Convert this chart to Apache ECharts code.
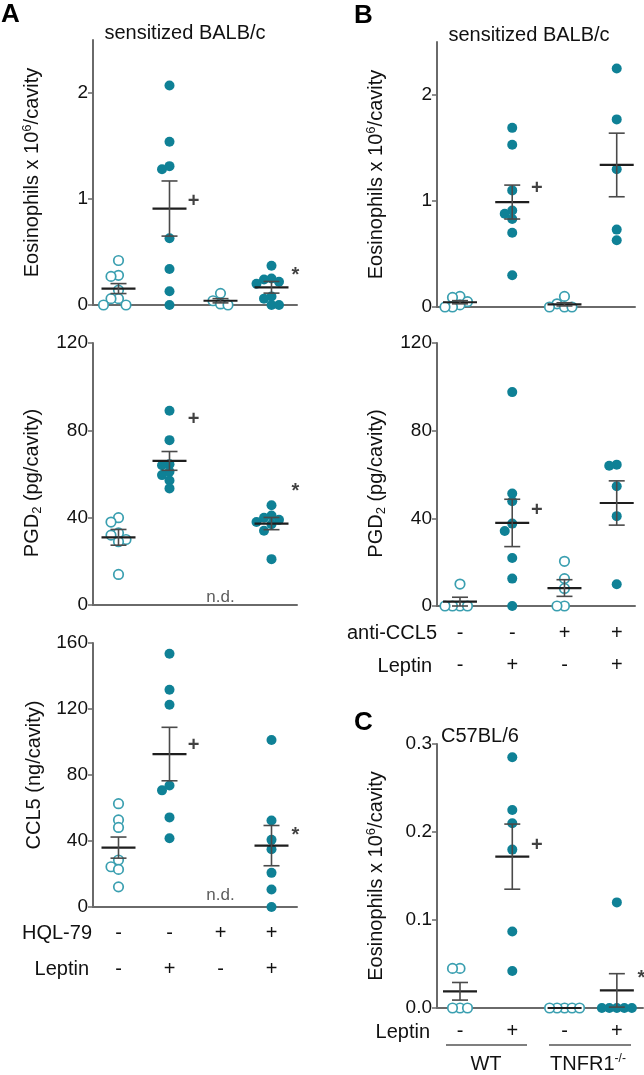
<!DOCTYPE html>
<html><head><meta charset="utf-8">
<script src="https://cdn.jsdelivr.net/npm/echarts@6/dist/echarts.min.js"></script>
<style>html,body{margin:0;padding:0;background:#fff}#c{width:644px;height:1075px}</style>
</head><body><div id="c"></div>
<script>
// ================= DATA =================
// treatment rows
const hql79    = ['-', '-', '+', '+'];
const leptinA  = ['-', '+', '-', '+'];
const antiCCL5 = ['-', '-', '+', '+'];
const leptinB  = ['-', '+', '-', '+'];
const leptinC  = ['-', '+', '-', '+'];
const genotypesC = ['WT', 'TNFR1'];

// Panel A – eosinophils (x10^6/cavity)
const eosA = [
  [0.42, 0.28, 0.27, 0.14, 0.06, 0.06, 0, 0],
  [2.07, 1.54, 1.31, 1.28, 0.63, 0.34, 0.13, 0],
  [0.11, 0.04, 0.01, 0],
  [0.37, 0.25, 0.24, 0.22, 0.2, 0.08, 0.06, 0, 0]
];
const eosAMean = [0.155, 0.91, 0.04, 0.167];
const eosASem  = [0.047, 0.26, 0.02, 0.055];
const eosASig  = [[2, 0.975, '+'], [4, 0.28, '*']];

// Panel A – PGD2 (pg/cavity)
const pgdA = [
  [40, 38, 33, 32, 30, 29, 14],
  [89, 75.5, 64.5, 64, 61, 59.5, 57, 53.4],
  [],
  [45.7, 41, 40, 39, 38, 37, 34, 21]
];
const pgdAMean = [31, 66, null, 37.3];
const pgdASem  = [3.6, 4.3, null, 2.8];
const pgdASig  = [[2, 85, '+'], [4, 52, '*']];
const pgdAND   = [[3, 3.7, 'n.d.']];

// Panel A – CCL5 (ng/cavity)
const cclA = [
  [62.6, 52.8, 48.2, 28.5, 24.4, 22.8, 12.2],
  [153.5, 131.7, 122.6, 73.6, 70.7, 54.3, 41.7],
  [],
  [101.2, 52.4, 40.7, 35, 20.7, 10.6, 0]
];
const cclAMean = [36, 92.7, null, 37.2];
const cclASem  = [6.4, 16.2, null, 12.2];
const cclASig  = [[2, 98, '+'], [4, 43.6, '*']];
const cclAND   = [[3, 7.3, 'n.d.']];

// Panel B – eosinophils
const eosB = [
  [0.1, 0.09, 0.05, 0.02, 0, 0],
  [1.69, 1.53, 1.1, 0.91, 0.88, 0.83, 0.7, 0.3],
  [0.1, 0.03, 0, 0, 0],
  [2.25, 1.77, 1.3, 0.73, 0.63]
];
const eosBMean = [0.045, 0.99, 0.025, 1.34];
const eosBSem  = [0.015, 0.16, 0.015, 0.3];
const eosBSig  = [[2, 1.12, '+']];

// Panel B – PGD2
const pgdB = [
  [10, 0, 0, 0, 0],
  [97.6, 51.3, 47.8, 37.6, 34.2, 21.9, 12.5, 0],
  [20.4, 12.5, 8, 0, 0],
  [64.5, 64, 54.6, 41, 9.9]
];
const pgdBMean = [2, 37.9, 8.2, 47];
const pgdBSem  = [2, 10.8, 3.8, 10.1];
const pgdBSig  = [[2, 43.4, '+']];

// Panel C – eosinophils C57BL/6
const eosC = [
  [0.045, 0.045, 0, 0, 0],
  [0.285, 0.225, 0.21, 0.18, 0.087, 0.042],
  [0, 0, 0, 0, 0],
  [0.12, 0, 0, 0, 0, 0]
];
const eosCMean = [0.019, 0.172, 0, 0.02];
const eosCSem  = [0.01, 0.037, 0, 0.019];
const eosCSig  = [[2, 0.185, '+'], [4, 0.034, '*']];

const yTicksEos = [0, 1, 2];
const yTicksPGD = [0, 40, 80, 120];
const yTicksCCL = [0, 40, 80, 120, 160];
const yTicksC   = [0, 0.1, 0.2, 0.3];

// ================= STYLE / LAYOUT =================
const FONT = '"Liberation Sans", Arial, Helvetica, sans-serif';
const TEAL = '#0f8196';
const TEAL_OPEN = '#3a9fb0';
const AXIS = '#6a6a6a';
const TXT = '#111';

const panels = [
  {left: 93, top: 40, width: 204, height: 265, xMin: 0.5, xMax: 4.5, yMax: 2.5, ticks: yTicksEos, dec: 0,
   name: 'Eosinophils x 10{sup|6}/cavity', pts: eosA, mean: eosAMean, sem: eosASem, sig: eosASig, nd: [], leptin: leptinA, rows: null},
  {left: 93, top: 343, width: 204, height: 262, xMin: 0.5, xMax: 4.5, yMax: 120, ticks: yTicksPGD, dec: 0,
   name: 'PGD{sub|2} (pg/cavity)', namePad: 18, pts: pgdA, mean: pgdAMean, sem: pgdASem, sig: pgdASig, nd: pgdAND, leptin: leptinA, rows: null},
  {left: 93, top: 643, width: 204, height: 264, xMin: 0.5, xMax: 4.5, yMax: 160, ticks: yTicksCCL, dec: 0,
   name: 'CCL5 (ng/cavity)', pts: cclA, mean: cclAMean, sem: cclASem, sig: cclASig, nd: cclAND, leptin: leptinA,
   rows: [hql79, leptinA], rowLH: 36, rowMargin: 8},
  {left: 437, top: 42, width: 198, height: 265, xMin: 0.56, xMax: 4.35, yMax: 2.5, ticks: yTicksEos, dec: 0,
   name: 'Eosinophils x 10{sup|6}/cavity', pts: eosB, mean: eosBMean, sem: eosBSem, sig: eosBSig, nd: [], leptin: leptinB, rows: null},
  {left: 437, top: 343, width: 198, height: 263, xMin: 0.56, xMax: 4.35, yMax: 120, ticks: yTicksPGD, dec: 0,
   name: 'PGD{sub|2} (pg/cavity)', namePad: 18, pts: pgdB, mean: pgdBMean, sem: pgdBSem, sig: pgdBSig, nd: [], leptin: leptinB,
   rows: [antiCCL5, leptinB], rowLH: 32, rowMargin: 11},
  {left: 437, top: 744, width: 206, height: 264, xMin: 0.56, xMax: 4.5, yMax: 0.3, ticks: yTicksC, dec: 1,
   name: 'Eosinophils x 10{sup|6}/cavity', pts: eosC, mean: eosCMean, sem: eosCSem, sig: eosCSig, nd: [], leptin: leptinC,
   rows: [leptinC], rowLH: 24, rowMargin: 11}
];

// beeswarm-style horizontal spreading (pixel based)
function swarm(values, pxY, step, diam) {
  const placed = [], out = [];
  values.map((v, i) => ({v, i})).sort((a, b) => b.v - a.v).forEach(p => {
    const y = p.v * pxY;
    for (const k of [0, -1, 1, -2, 2, -3, 3, -4, 4]) {
      const x = k * step;
      if (placed.every(q => Math.hypot(q.x - x, q.y - y) >= diam - 0.01)) {
        placed.push({x, y}); out.push([x, p.v]); break;
      }
    }
  });
  return out;
}

const grid = [], xAxis = [], yAxis = [], series = [];
panels.forEach((P, i) => {
  grid.push({left: P.left, top: P.top, width: P.width, height: P.height});
  const unitX = P.width / (P.xMax - P.xMin);
  const pxY = P.height / P.yMax;
  const rows = P.rows;
  xAxis.push({
    type: 'value', gridIndex: i, min: P.xMin, max: P.xMax,
    axisLine: {show: true, onZero: false, lineStyle: {color: AXIS, width: 2}},
    axisTick: {show: false}, splitLine: {show: false},
    axisLabel: rows ? {
      show: true, customValues: [1, 2, 3, 4], margin: P.rowMargin,
      formatter: v => rows.map(r => '{s|' + r[Math.round(v) - 1] + '}').join('\n'),
      rich: {s: {fontFamily: FONT, fontSize: 20, lineHeight: P.rowLH, color: TXT}}
    } : {show: false}
  });
  yAxis.push({
    type: 'value', gridIndex: i, min: 0, max: P.yMax,
    axisLine: {show: true, lineStyle: {color: AXIS, width: 2}},
    axisTick: {show: true, length: 5, customValues: P.ticks, lineStyle: {color: AXIS, width: 1.5}},
    splitLine: {show: false},
    axisLabel: {customValues: P.ticks, margin: 5, fontFamily: FONT, fontSize: 19, color: TXT,
      formatter: v => v.toFixed(P.dec)},
    name: P.name, nameLocation: 'middle', nameGap: 49, nameRotate: 90,
    nameTextStyle: {fontFamily: FONT, fontSize: 20, color: TXT, padding: [0, P.namePad || 0, 0, 0],
      rich: {sup: {fontFamily: FONT, fontSize: 13, verticalAlign: 'top', lineHeight: 23, color: TXT},
             sub: {fontFamily: FONT, fontSize: 13, verticalAlign: 'bottom', lineHeight: 23, color: TXT}}}
  });
  const open = [], filled = [];
  P.pts.forEach((vals, g) => {
    swarm(vals, pxY, 7.5, 7.5).forEach(([dx, v]) => {
      const pt = [g + 1 + dx / unitX, v];
      (P.leptin[g] === '-' ? open : filled).push(pt);
    });
  });
  series.push({type: 'scatter', xAxisIndex: i, yAxisIndex: i, data: open, symbol: 'circle', symbolSize: 9.5,
    itemStyle: {color: '#ffffff', borderColor: TEAL_OPEN, borderWidth: 1.7, opacity: 1}, z: 2, silent: true});
  series.push({type: 'scatter', xAxisIndex: i, yAxisIndex: i, data: filled, symbol: 'circle', symbolSize: 10,
    itemStyle: {color: TEAL, opacity: 1}, z: 2, silent: true});
  const msd = [];
  P.mean.forEach((m, g) => { if (m !== null) msd.push([g + 1, m, P.sem[g]]); });
  series.push({type: 'custom', xAxisIndex: i, yAxisIndex: i, data: msd, z: 5, silent: true,
    renderItem: (params, api) => {
      const g = api.value(0), m = api.value(1), s = api.value(2);
      const c = api.coord([g, m]);
      const ch = [{type: 'line', shape: {x1: c[0] - 17, y1: c[1], x2: c[0] + 17, y2: c[1]},
        style: {stroke: '#1e1e1e', lineWidth: 2.2}}];
      if (s > 0) {
        const t = api.coord([g, m + s]), b = api.coord([g, Math.max(0, m - s)]);
        ch.push({type: 'line', shape: {x1: c[0], y1: t[1], x2: c[0], y2: b[1]}, style: {stroke: '#4a4a4a', lineWidth: 1.6}});
        ch.push({type: 'line', shape: {x1: c[0] - 8, y1: t[1], x2: c[0] + 8, y2: t[1]}, style: {stroke: '#4a4a4a', lineWidth: 1.6}});
        ch.push({type: 'line', shape: {x1: c[0] - 8, y1: b[1], x2: c[0] + 8, y2: b[1]}, style: {stroke: '#4a4a4a', lineWidth: 1.6}});
      }
      return {type: 'group', children: ch};
    }
  });
  series.push({type: 'scatter', xAxisIndex: i, yAxisIndex: i, silent: true, z: 6,
    data: P.sig.map(d => [d[0] + 0.47, d[1], d[2]]), symbolSize: 0.1,
    label: {show: true, position: 'inside', formatter: p => p.data[2], fontFamily: FONT,
      fontSize: 20, fontWeight: 'bold', color: '#111'}});
  if (P.nd.length) series.push({type: 'scatter', xAxisIndex: i, yAxisIndex: i, silent: true, z: 6,
    data: P.nd, symbolSize: 0.1,
    label: {show: true, position: 'inside', formatter: p => p.data[2], fontFamily: FONT, fontSize: 17, color: '#333'}});
});

const txt = (text, x, y, opt) => ({type: 'text', x, y, silent: true,
  style: Object.assign({text, fontFamily: FONT, fontSize: 20, fill: TXT, align: 'left', verticalAlign: 'middle'}, opt || {})});

const graphic = [
  txt('A', 1, 15, {fontSize: 26, fontWeight: 'bold', fill: '#000'}),
  txt('B', 354, 16, {fontSize: 26, fontWeight: 'bold', fill: '#000'}),
  txt('C', 354, 723, {fontSize: 26, fontWeight: 'bold', fill: '#000'}),
  txt('sensitized BALB/c', 185, 33, {align: 'center'}),
  txt('sensitized BALB/c', 529, 35, {align: 'center'}),
  txt('C57BL/6', 441, 736),
  txt('HQL-79', 92, 933, {align: 'right'}),
  txt('Leptin', 89, 969, {align: 'right'}),
  txt('anti-CCL5', 437, 633, {align: 'right'}),
  txt('Leptin', 432, 666, {align: 'right'}),
  txt('Leptin', 430, 1032, {align: 'right'}),
  {type: 'line', silent: true, shape: {x1: 446, y1: 1045, x2: 527, y2: 1045}, style: {stroke: '#555', lineWidth: 1.6}},
  {type: 'line', silent: true, shape: {x1: 549, y1: 1045, x2: 631, y2: 1045}, style: {stroke: '#555', lineWidth: 1.6}},
  txt(genotypesC[0], 486, 1064, {align: 'center'}),
  txt('{n|' + genotypesC[1] + '}{sup|-/-}', 588, 1064, {align: 'center',
    rich: {n: {fontFamily: FONT, fontSize: 20, fill: TXT, lineHeight: 22},
           sup: {fontFamily: FONT, fontSize: 12, fill: TXT, verticalAlign: 'top', lineHeight: 22}}})
];

const chart = echarts.init(document.getElementById('c'), null, {renderer: 'canvas'});
chart.setOption({animation: false, backgroundColor: '#fff', grid, xAxis, yAxis, series, graphic});
</script></body></html>
